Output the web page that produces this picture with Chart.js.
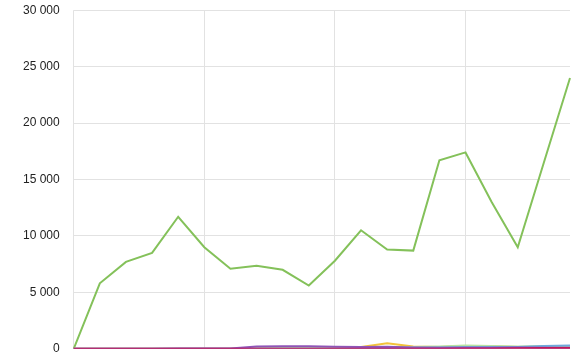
<!DOCTYPE html>
<html>
<head>
<meta charset="utf-8">
<script src="https://cdn.jsdelivr.net/npm/chart.js@4/dist/chart.umd.min.js"></script>
<style>
  html, body { margin: 0; padding: 0; background: #fff; }
  #wrap { width: 572px; height: 359px; }
</style>
</head>
<body>
<div id="wrap"><canvas id="chart"></canvas></div>
<script>
const labels = ['1','2','3','4','5','6','7','8','9','10','11','12','13','14','15','16','17','18','19','20'];
const greenVals  = [0, 5800, 7700, 8500, 11700, 9000, 7100, 7350, 7000, 5600, 7800, 10500, 8800, 8700, 16700, 17400, 13000, 9000, 16500, 24000];
const yellowVals = [0, 0, 0, 0, 0, 0, 0, 50, 80, 100, 120, 150, 500, 200, 150, 250, 220, 150, 150, 150];
const lightVals  = [0, 0, 0, 0, 0, 0, 0, 50, 60, 80, 100, 120, 150, 150, 200, 300, 250, 200, 250, 250];
const blueVals   = [0, 0, 0, 0, 0, 0, 0, 0, 0, 0, 0, 50, 80, 100, 120, 150, 150, 150, 250, 300];
const purpleVals = [0, 0, 0, 0, 20, 20, 20, 200, 220, 220, 180, 170, 180, 120, 100, 100, 100, 120, 100, 100];
const redVals    = [0, 0, 0, 0, 0, 0, 0, 0, 0, 0, 0, 0, 0, 0, 0, 20, 30, 40, 60, 80];
const yTicks = [0, 5000, 10000, 15000, 20000, 25000, 30000];

const ctx = document.getElementById('chart');

const mkSet = function (data, color) {
    return {
        data: data,
        borderColor: color,
        backgroundColor: color,
        borderWidth: 2,
        pointRadius: 0,
        tension: 0,
        fill: false
    };
};

const fmt = function (v) {
    return String(v).replace(/\B(?=(\d{3})+(?!\d))/g, ' ');
};

// first dataset ends up on top
const chart = new Chart(ctx, {
    type: 'line',
    data: {
        labels: labels,
        datasets: [
            mkSet(redVals, '#c2185b'),
            mkSet(purpleVals, '#8e55b8'),
            mkSet(blueVals, '#6fa8dc'),
            mkSet(lightVals, '#b6e3a0'),
            mkSet(yellowVals, '#f3c23a'),
            mkSet(greenVals, '#84c15a')
        ]
    },
    options: {
        responsive: true,
        maintainAspectRatio: false,
        animation: false,
        layout: { padding: { left: 20, right: 2, top: 0, bottom: 0 } },
        plugins: { legend: { display: false }, tooltip: { enabled: false } },
        scales: {
            x: {
                ticks: { display: false },
                border: { display: false },
                grid: {
                    drawTicks: false,
                    color: (c) => (c.index % 5 === 0 ? '#e2e2e2' : 'rgba(0,0,0,0)')
                }
            },
            y: {
                min: 0,
                max: 30000,
                afterBuildTicks: (axis) => { axis.ticks = yTicks.map(v => ({ value: v })); },
                border: { display: false },
                grid: { drawTicks: true, tickLength: 11, tickColor: 'rgba(0,0,0,0)', color: '#e2e2e2' },
                ticks: {
                    padding: 3,
                    color: '#222',
                    font: { family: 'Liberation Sans, Arial', size: 12 },
                    callback: (v) => fmt(v)
                }
            }
        }
    }
});
</script>
</body>
</html>
